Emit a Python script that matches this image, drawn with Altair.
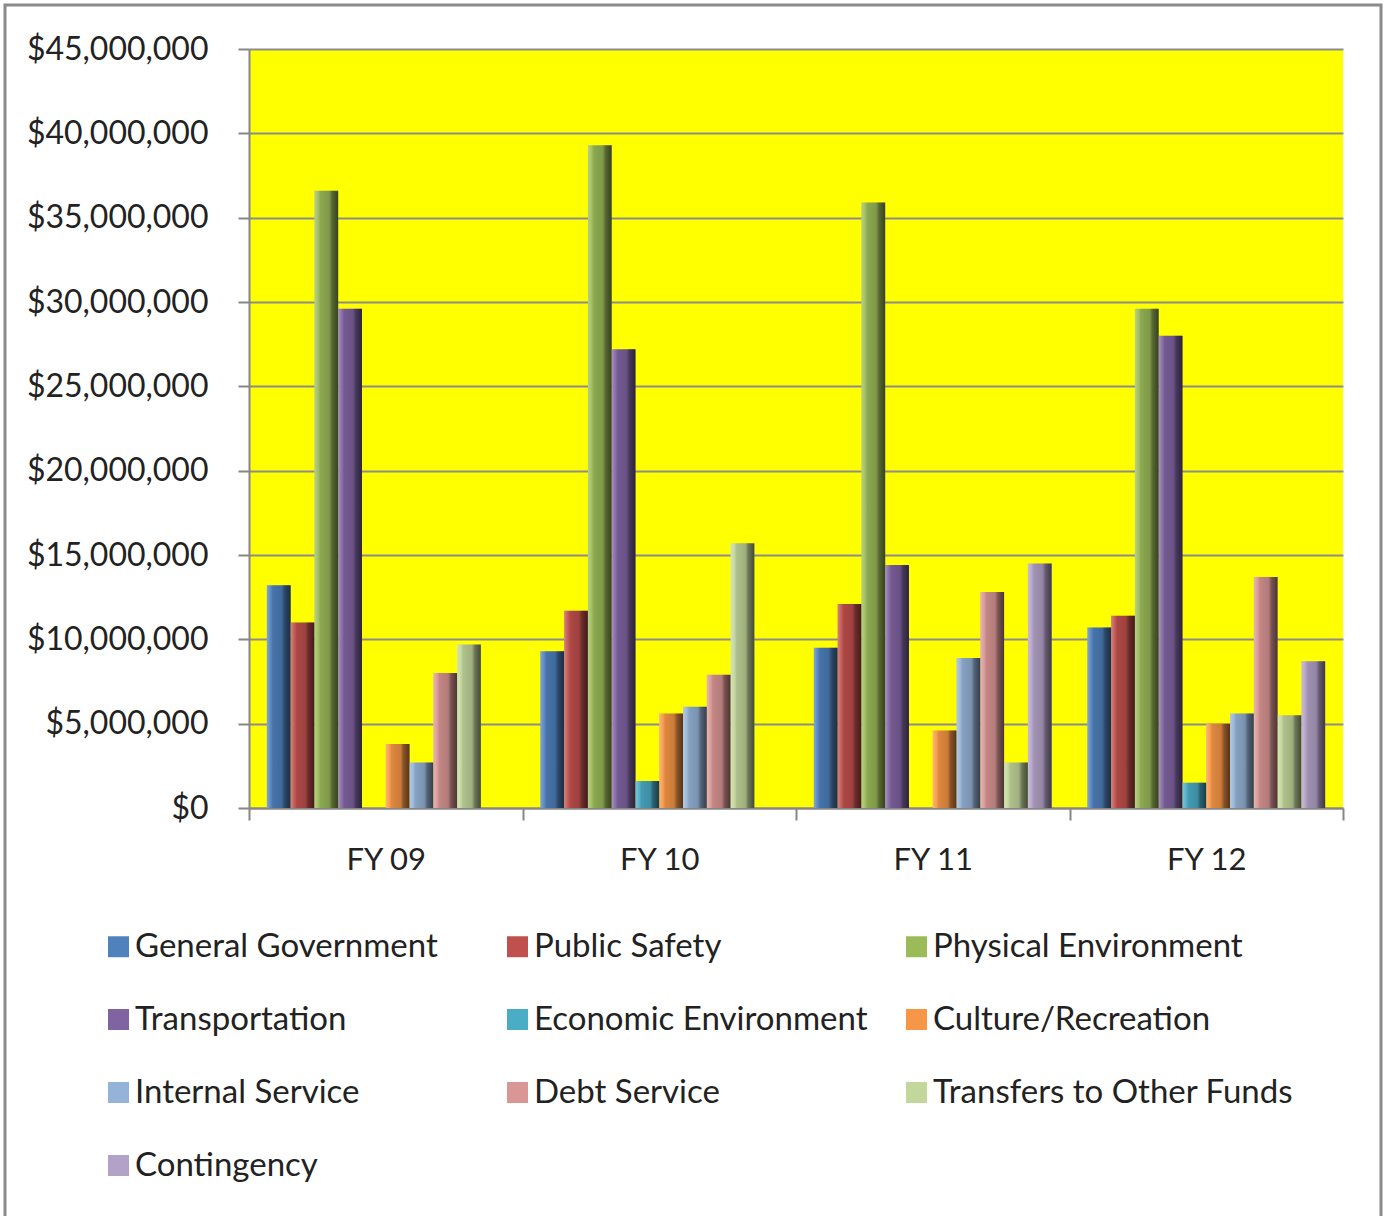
import altair as alt
import pandas as pd

years = ["FY 09", "FY 10", "FY 11", "FY 12"]
categories = [
    "General Government", "Public Safety", "Physical Environment",
    "Transportation", "Economic Environment", "Culture/Recreation",
    "Internal Service", "Debt Service", "Transfers to Other Funds", "Contingency",
]
colors = ["#4F81BD", "#C0504D", "#9BBB59", "#8064A2", "#4BACC6",
          "#F79646", "#95B3D7", "#D99694", "#C3D69B", "#B3A2C7"]

general_government = [13200000, 9300000, 9500000, 10700000]
public_safety = [11000000, 11700000, 12100000, 11400000]
physical_environment = [36600000, 39300000, 35900000, 29600000]
transportation = [29600000, 27200000, 14400000, 28000000]
economic_environment = [0, 1600000, 0, 1500000]
culture_recreation = [3800000, 5600000, 4600000, 5000000]
internal_service = [2700000, 6000000, 8900000, 5600000]
debt_service = [8000000, 7900000, 12800000, 13700000]
transfers = [9700000, 15700000, 2700000, 5500000]
contingency = [0, 0, 14500000, 8700000]

series = [general_government, public_safety, physical_environment, transportation,
          economic_environment, culture_recreation, internal_service, debt_service,
          transfers, contingency]

rows = []
for cat, vals in zip(categories, series):
    for y, v in zip(years, vals):
        rows.append({"Year": y, "Category": cat, "Amount": v})
df = pd.DataFrame(rows)

FONT = "Lato"

x_enc = alt.X("Year:N", sort=years, title=None,
              scale=alt.Scale(paddingInner=0, paddingOuter=0),
              axis=alt.Axis(labelAngle=0, tickBand="extent", tickSize=12,
                            labelPadding=25, labelFontSize=31, labelFont=FONT,
                            labelColor="#222222", domainColor="#868686",
                            tickColor="#868686", domainWidth=2, tickWidth=2,
                            grid=False))
xoff_enc = alt.XOffset("Category:N", sort=categories,
                       scale=alt.Scale(paddingOuter=0.75, paddingInner=0))
y_enc = alt.Y("Amount:Q", title=None,
              scale=alt.Scale(domain=[0, 45000000], nice=False),
              axis=alt.Axis(values=list(range(0, 45000001, 5000000)), format="$,.0f",
                            labelFontSize=32, labelFont=FONT, labelColor="#222222",
                            labelLimit=300, labelPadding=30, tickSize=11,
                            tickColor="#868686", domainColor="#868686",
                            domainWidth=2, tickWidth=2,
                            gridColor="#8c8c8c", gridWidth=2))

bars = alt.Chart(df).mark_bar().encode(
    x=x_enc,
    xOffset=xoff_enc,
    y=y_enc,
    color=alt.Color("Category:N", sort=categories,
                    scale=alt.Scale(domain=categories, range=colors),
                    legend=alt.Legend(title=None, orient="none", legendX=-147, legendY=881,
                                      columns=3, gridAlign="all", columnPadding=5,
                                      rowPadding=39, padding=0, symbolType="square",
                                      symbolSize=440, symbolStrokeWidth=0,
                                      labelFont=FONT, labelFontSize=33,
                                      labelColor="#222222", labelLimit=600, labelOffset=0,
                                      direction="horizontal")),
)

shade = alt.Chart(df).mark_bar(fill={
    "gradient": "linear", "x1": 0, "y1": 0, "x2": 1, "y2": 0,
    "stops": [
        {"offset": 0, "color": "rgba(255,255,255,0.30)"},
        {"offset": 0.15, "color": "rgba(255,255,255,0.08)"},
        {"offset": 0.25, "color": "rgba(0,0,0,0.10)"},
        {"offset": 0.62, "color": "rgba(0,0,0,0.18)"},
        {"offset": 0.75, "color": "rgba(0,0,0,0.45)"},
        {"offset": 1, "color": "rgba(0,0,0,0.65)"},
    ]}).encode(x=x_enc, xOffset=xoff_enc, y=y_enc)

border = alt.Chart(pd.DataFrame({"a": [0]})).mark_rect(
    fill="transparent", stroke="#8a8a8a", strokeWidth=3).encode(
    x=alt.value(-244), x2=alt.value(1132), y=alt.value(-44), y2=alt.value(1180))

chart = alt.layer(bars, shade, border).properties(
    width=1094, height=759,
    autosize=alt.AutoSizeParams(type="none"),
    padding={"left": 249, "top": 49, "right": 44, "bottom": 408},
    background="white",
).configure_view(fill="#FFFF00", stroke=None)

chart.save("out.html", embed_options={"renderer": "svg", "actions": False})
